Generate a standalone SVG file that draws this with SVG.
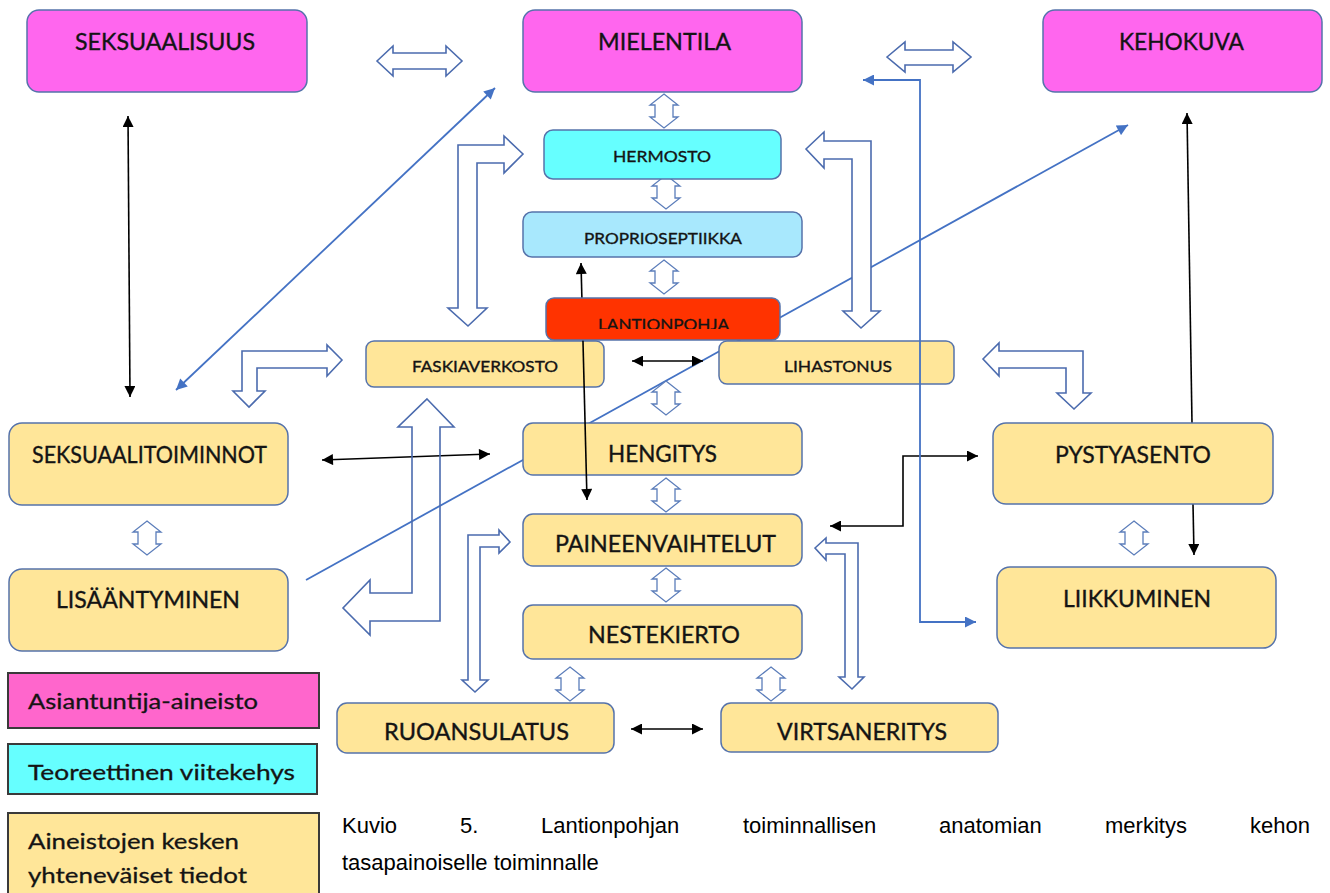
<svg xmlns="http://www.w3.org/2000/svg" xmlns:xlink="http://www.w3.org/1999/xlink" width="1330" height="893" viewBox="0 0 1330 893">
<style>
.lbl{font-family:Lato,"Noto Sans","Liberation Sans",sans-serif;fill:#141414;stroke:#141414;stroke-width:0.35;text-anchor:middle}
.big{font-size:23px}
.sm{font-size:16px}
.leg{font-family:Lato,"Noto Sans","Liberation Sans",sans-serif;font-size:22px;fill:#141414;stroke:#141414;stroke-width:0.3}
.cap{font-family:"Liberation Sans",Arial,sans-serif;font-size:22px;fill:#000}
.box{stroke:#5673AB;stroke-width:1.5}
.mag{fill:#FF66EE}
.cya{fill:#66FFFF}
.lbl2{fill:#A8E8FD}
.red{fill:#FF3300}
.yel{fill:#FFE699}
.legbox{stroke:#3a3a3a;stroke-width:2}
.blk{stroke:#000;stroke-width:1.6;fill:none}
.blu{stroke:#4472C4;stroke-width:1.8;fill:none}
.barr{stroke:#4B6BAE;stroke-width:1.6;fill:#fff;stroke-linejoin:miter}
.sarr{stroke:#5B7DBA;stroke-width:1.3;fill:#fff}
</style>
<defs>
<marker id="ak" viewBox="0 0 10 10" refX="10" refY="5" markerWidth="12" markerHeight="11" markerUnits="userSpaceOnUse" orient="auto-start-reverse"><path d="M0,0 L10,5 L0,10 z" fill="#000"/></marker>
<marker id="ab" viewBox="0 0 10 10" refX="10" refY="5" markerWidth="14" markerHeight="11" markerUnits="userSpaceOnUse" orient="auto-start-reverse"><path d="M0,0 L10,5 L0,10 z" fill="#4472C4"/></marker>
<path id="vd" d="M0,-17 L14,-6 L9,-6 L9,6 L14,6 L0,17 L-14,6 L-9,6 L-9,-6 L-14,-6 Z"/>
<clipPath id="lclip"><rect x="546" y="298" width="234" height="31"/></clipPath>
</defs>
<rect width="1330" height="893" fill="#fff"/>

<g id="connectors">
<path class="blk" d="M128,116 L130,397" marker-start="url(#ak)" marker-end="url(#ak)"/>
<path class="blu" d="M176,390 L495,88" marker-start="url(#ab)" marker-end="url(#ab)"/>
<path class="blu" d="M306,580 L1128,125" marker-end="url(#ab)"/>
<path class="blk" d="M1192,423 L1187,113" marker-end="url(#ak)"/>
<path class="blk" d="M1193,504 L1194,555" marker-end="url(#ak)"/>
<path class="blk" d="M632,361 L703,361" marker-start="url(#ak)" marker-end="url(#ak)"/>
<path class="blk" d="M322,460 L490,454" marker-start="url(#ak)" marker-end="url(#ak)"/>
<path class="blk" d="M830,526 H903 V456 H978" marker-start="url(#ak)" marker-end="url(#ak)"/>
<path class="blk" d="M631,729 L703,729" marker-start="url(#ak)" marker-end="url(#ak)"/>
<path class="barr" d="M377,61 L393,46 L393,53 L446,53 L446,46 L462,61 L446,76 L446,69 L393,69 L393,76 Z"/>
<path class="barr" d="M887,57 L905,42 L905,50 L953,50 L953,42 L971,57 L953,72 L953,65 L905,65 L905,72 Z"/>
<path class="barr" d="M523,154 L504,136 L504,145 L458,145 L458,308 L448,308 L468,326 L487,308 L477,308 L477,163 L504,163 L504,173 Z"/>
<path class="barr" d="M806,149 L824,132 L824,141 L871,141 L871,311 L880,311 L861,328 L843,311 L852,311 L852,159 L824,159 L824,168 Z"/>
<path class="barr" d="M342,360 L327,345 L327,351 L242,351 L242,391 L233,391 L249,407 L265,391 L257,391 L257,368 L327,368 L327,376 Z"/>
<path class="barr" d="M983,359 L999,343 L999,351 L1083,351 L1083,393 L1091,393 L1074,409 L1057,393 L1066,393 L1066,368 L999,368 L999,376 Z"/>
<path class="barr" style="fill:none" d="M427,399 L454,427 L440,427 L440,621 L370,621 L370,635 L343,608 L370,580 L370,593 L412,593 L412,427 L398,427 Z"/>
<path class="barr" d="M510,542 L499,530 L499,535 L468,535 L468,680 L462,680 L475,692 L488,680 L480,680 L480,547 L499,547 L499,553 Z"/>
<path class="barr" d="M815,548 L826,538 L826,543 L858,543 L858,677 L864,677 L852,689 L839,677 L845,677 L845,554 L826,554 L826,560 Z"/>
<use href="#vd" class="sarr" x="664" y="111"/>
<use href="#vd" class="sarr" x="666" y="192"/>
<use href="#vd" class="sarr" x="664" y="277"/>
<use href="#vd" class="sarr" x="666" y="398"/>
<use href="#vd" class="sarr" x="666" y="495"/>
<use href="#vd" class="sarr" x="666" y="585"/>
<use href="#vd" class="sarr" x="147" y="538"/>
<use href="#vd" class="sarr" x="1134" y="538"/>
<use href="#vd" class="sarr" x="570" y="684"/>
<use href="#vd" class="sarr" x="771" y="684"/>
</g>

<g id="seksuaalisuus"><rect class="box mag" x="27" y="10" width="280" height="82" rx="12"/><text class="lbl big" x="165" y="50" textLength="180" lengthAdjust="spacingAndGlyphs">SEKSUAALISUUS</text></g>
<g id="mielentila"><rect class="box mag" x="523" y="10" width="279" height="82" rx="12"/><text class="lbl big" x="664.5" y="50" textLength="133" lengthAdjust="spacingAndGlyphs">MIELENTILA</text></g>
<g id="kehokuva"><rect class="box mag" x="1043" y="10" width="279" height="82" rx="12"/><text class="lbl big" x="1181.5" y="50" textLength="125" lengthAdjust="spacingAndGlyphs">KEHOKUVA</text></g>
<g id="hermosto"><rect class="box cya" x="544" y="130" width="237" height="49" rx="9"/><text class="lbl sm" x="662" y="162" textLength="98" lengthAdjust="spacingAndGlyphs">HERMOSTO</text></g>
<g id="proprioseptiikka"><rect class="box lbl2" x="523" y="212" width="279" height="45" rx="9"/><text class="lbl sm" x="663" y="244" textLength="158" lengthAdjust="spacingAndGlyphs">PROPRIOSEPTIIKKA</text></g>
<g id="faskiaverkosto"><rect class="box yel" x="366" y="341" width="238" height="46" rx="8"/><text class="lbl sm" x="485" y="372" textLength="146" lengthAdjust="spacingAndGlyphs">FASKIAVERKOSTO</text></g>
<g id="lihastonus"><rect class="box yel" x="719" y="341" width="235" height="43" rx="8"/><text class="lbl sm" x="838" y="372" textLength="108" lengthAdjust="spacingAndGlyphs">LIHASTONUS</text></g>
<g id="hengitys"><rect class="box yel" x="523" y="423" width="279" height="52" rx="10"/><text class="lbl big" x="662.5" y="462" textLength="109" lengthAdjust="spacingAndGlyphs">HENGITYS</text></g>
<g id="paineenvaihtelut"><rect class="box yel" x="523" y="514" width="279" height="52" rx="10"/><text class="lbl big" x="665.5" y="552" textLength="221" lengthAdjust="spacingAndGlyphs">PAINEENVAIHTELUT</text></g>
<g id="nestekierto"><rect class="box yel" x="523" y="605" width="279" height="54" rx="10"/><text class="lbl big" x="664" y="643" textLength="152" lengthAdjust="spacingAndGlyphs">NESTEKIERTO</text></g>
<g id="ruoansulatus"><rect class="box yel" x="337" y="703" width="277" height="50" rx="10"/><text class="lbl big" x="476.5" y="740" textLength="185" lengthAdjust="spacingAndGlyphs">RUOANSULATUS</text></g>
<g id="virtsaneritys"><rect class="box yel" x="721" y="703" width="277" height="49" rx="10"/><text class="lbl big" x="862" y="740" textLength="170" lengthAdjust="spacingAndGlyphs">VIRTSANERITYS</text></g>
<g id="seksuaalitoiminnot"><rect class="box yel" x="9" y="423" width="279" height="82" rx="13"/><text class="lbl big" x="149.5" y="463" textLength="235" lengthAdjust="spacingAndGlyphs">SEKSUAALITOIMINNOT</text></g>
<g id="lisaantyminen"><rect class="box yel" x="9" y="569" width="279" height="82" rx="13"/><text class="lbl big" x="148" y="608" textLength="184" lengthAdjust="spacingAndGlyphs">LISÄÄNTYMINEN</text></g>
<g id="pystyasento"><rect class="box yel" x="993" y="423" width="280" height="81" rx="13"/><text class="lbl big" x="1133" y="463" textLength="156" lengthAdjust="spacingAndGlyphs">PYSTYASENTO</text></g>
<g id="liikkuminen"><rect class="box yel" x="997" y="567" width="279" height="81" rx="13"/><text class="lbl big" x="1137" y="607" textLength="148" lengthAdjust="spacingAndGlyphs">LIIKKUMINEN</text></g>

<g id="connectors-over">
<path class="blk" d="M581,263 L587,500" marker-start="url(#ak)" marker-end="url(#ak)"/>
<path class="blu" d="M863,80 H920 V622 H976" marker-start="url(#ab)" marker-end="url(#ab)"/>
</g>

<g id="lantionpohja"><rect class="box red" x="546" y="298" width="234" height="42" rx="8"/><text class="lbl sm" x="663.5" y="330" textLength="131" lengthAdjust="spacingAndGlyphs" clip-path="url(#lclip)">LANTIONPOHJA</text></g>

<g id="legend-asiantuntija"><rect class="legbox" fill="#FF66CC" x="8" y="673" width="311" height="55"/><text class="leg" x="28" y="709" textLength="230" lengthAdjust="spacingAndGlyphs">Asiantuntija-aineisto</text></g>
<g id="legend-teoreettinen"><rect class="legbox" fill="#66FFFF" x="8" y="744" width="309" height="50"/><text class="leg" x="28" y="780" textLength="267" lengthAdjust="spacingAndGlyphs">Teoreettinen viitekehys</text></g>
<g id="legend-aineistojen"><rect class="legbox" fill="#FFE699" x="8" y="813" width="311" height="90"/><text class="leg" x="28" y="849" textLength="211" lengthAdjust="spacingAndGlyphs">Aineistojen kesken</text><text class="leg" x="28" y="883" textLength="219" lengthAdjust="spacingAndGlyphs">yhteneväiset tiedot</text></g>

<g id="caption">
<text class="cap" y="833"><tspan x="342">Kuvio</tspan><tspan x="460">5.</tspan><tspan x="541">Lantionpohjan</tspan><tspan x="743">toiminnallisen</tspan><tspan x="939">anatomian</tspan><tspan x="1105">merkitys</tspan><tspan x="1250">kehon</tspan></text>
<text class="cap" x="342" y="870">tasapainoiselle toiminnalle</text>
</g>
</svg>
